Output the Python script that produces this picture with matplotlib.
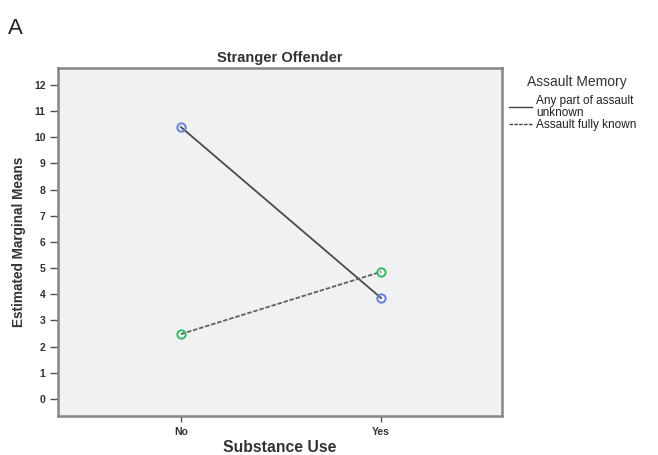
import matplotlib
matplotlib.use("Agg")
import matplotlib.pyplot as plt

plt.rcParams["font.family"] = ["Liberation Sans", "DejaVu Sans"]

# data
substance = ["No", "Yes"]
unknown_means = [10.39, 3.86]   # Any part of assault unknown
known_means = [2.48, 4.86]      # Assault fully known
yticks = list(range(0, 13))

fig = plt.figure(figsize=(6.58, 4.55), dpi=100)
ax = fig.add_axes([0.088, 0.0857, 0.675, 0.765])
ax.set_facecolor("#f0f1f3")

xpos = list(range(len(substance)))
l1, = ax.plot(xpos, unknown_means, color="#4a4a4a", lw=1.3, ls="-",
              marker="o", ms=6, mfc="none", mec="#6a7fd2", mew=1.4,
              label="Any part of assault\nunknown")
l2, = ax.plot(xpos, known_means, color="#606060", lw=1.3, ls=(0, (2.5, 1)),
              marker="o", ms=6, mfc="none", mec="#3cb66a", mew=1.4,
              label="Assault fully known")

ax.set_xlim(-0.615, 1.605)
ax.set_ylim(-0.65, 12.65)
ax.set_xticks(xpos)
ax.set_xticklabels(substance)
ax.set_yticks(yticks)

for s in ax.spines.values():
    s.set_color("#858585")
    s.set_linewidth(1.8)

ax.tick_params(axis="y", length=6, width=1, color="#505050", labelsize=7.5,
               labelcolor="#333333", pad=3)
ax.tick_params(axis="x", length=4, width=1, color="#505050", labelsize=7.5,
               labelcolor="#333333", pad=4)
for t in ax.get_xticklabels() + ax.get_yticklabels():
    t.set_fontweight("bold")

ax.set_ylabel("Estimated Marginal Means", fontsize=9.8, fontweight="bold",
              color="#333333", labelpad=6)
ax.set_xlabel("Substance Use", fontsize=11.3, fontweight="bold",
              color="#333333", labelpad=2)
ax.set_title("Stranger Offender", fontsize=10.5, fontweight="bold",
             color="#333333", pad=4)

fig.text(0.012, 0.925, "A", fontsize=16, color="#222222")

# legend title drawn separately so its gap to the entries can be set
fig.text(0.801, 0.82, "Assault Memory", fontsize=10, color="#333333",
         va="center", ha="left")
leg = fig.legend(handles=[l1, l2], loc="upper left",
                 bbox_to_anchor=(0.773, 0.792), frameon=False,
                 fontsize=8.5, handlelength=2.0, handletextpad=0.35,
                 labelspacing=0.05, borderaxespad=0, borderpad=0)
for t in leg.get_texts():
    t.set_linespacing(1.0)
    t.set_color("#222222")
for h in leg.legend_handles:
    h.set_marker("")
    h.set_color("#404040")
    h.set_linewidth(1)

fig.savefig("out.png", dpi=100)
